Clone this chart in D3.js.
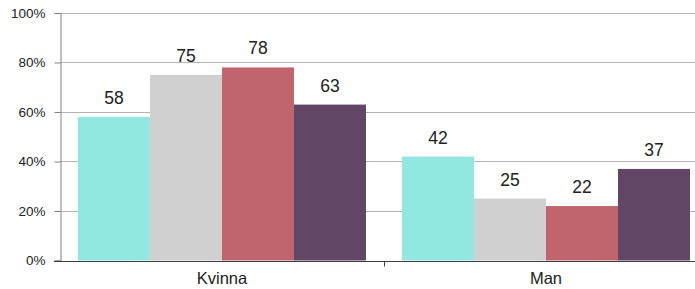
<!DOCTYPE html>
<html>
<head>
<meta charset="utf-8">
<script src="https://cdn.jsdelivr.net/npm/d3@7"></script>
<style>
  body { margin: 0; background: #fff; }
  svg { display: block; font-family: "Liberation Sans", Arial, sans-serif; }
</style>
</head>
<body>
<div id="chart"></div>
<script>
// Chart data
const categories = ["Kvinna", "Man"];
const seriesNames = ["s1", "s2", "s3", "s4"];
const seriesColors = ["#92e8e1", "#d0d0d0", "#c0646e", "#614665"];
const values = [
  [58, 75, 78, 63],   // Kvinna
  [42, 25, 22, 37]    // Man
];
const yTicks = [0, 20, 40, 60, 80, 100];

const width = 695, height = 289;
const margin = { left: 60, top: 13, right: -13, bottom: 28.5 };

const svg = d3.select("#chart").append("svg")
  .attr("width", width)
  .attr("height", height);

const x = d3.scaleBand()
  .domain(categories)
  .range([margin.left, width - margin.right])
  .paddingInner(0)
  .paddingOuter(0);

const xInner = d3.scaleBand()
  .domain(seriesNames)
  .range([18, x.bandwidth() - 18]);

const y = d3.scaleLinear()
  .domain([0, 100])
  .range([height - margin.bottom, margin.top]);

// Gridlines
svg.append("g")
  .selectAll("line")
  .data(yTicks.filter(d => d > 0))
  .join("line")
  .attr("x1", margin.left)
  .attr("x2", width)
  .attr("y1", d => Math.round(y(d)) + 0.5)
  .attr("y2", d => Math.round(y(d)) + 0.5)
  .attr("stroke", "#b4b4b4")
  .attr("stroke-width", 1);

// Bars
const groups = svg.append("g")
  .selectAll("g")
  .data(categories)
  .join("g")
  .attr("transform", d => `translate(${x(d)},0)`);

groups.selectAll("rect")
  .data((d, i) => values[i].map((v, j) => ({ v, s: seriesNames[j], c: seriesColors[j] })))
  .join("rect")
  .attr("x", d => xInner(d.s))
  .attr("width", xInner.bandwidth())
  .attr("y", d => y(d.v))
  .attr("height", d => y(0) - y(d.v))
  .attr("fill", d => d.c);

// Value labels
groups.selectAll("text")
  .data((d, i) => values[i].map((v, j) => ({ v, s: seriesNames[j] })))
  .join("text")
  .attr("x", d => xInner(d.s) + xInner.bandwidth() / 2)
  .attr("y", d => y(d.v) - 13)
  .attr("text-anchor", "middle")
  .attr("font-size", "17.5px")
  .attr("fill", "#222")
  .text(d => d.v);

// Y axis
const yAxis = svg.append("g")
  .attr("transform", `translate(${margin.left + 0.5},0)`)
  .call(d3.axisLeft(y).tickValues(yTicks).tickSize(6).tickPadding(9).tickFormat(d => d + "%"));
yAxis.select(".domain").attr("stroke", "#808080");
yAxis.selectAll(".tick line").attr("stroke", "#808080");
yAxis.selectAll(".tick text")
  .attr("font-size", "13.5px")
  .attr("fill", "#222")
  .style("font-family", "\"Liberation Sans\", Arial, sans-serif");

// X axis
const xAxisY = Math.round(y(0)) + 0.5;
svg.append("line")
  .attr("x1", margin.left - 6)
  .attr("x2", width)
  .attr("y1", xAxisY)
  .attr("y2", xAxisY)
  .attr("stroke", "#404040");

svg.append("g")
  .selectAll("line")
  .data(categories.slice(1))
  .join("line")
  .attr("x1", d => Math.round(x(d)) + 0.5)
  .attr("x2", d => Math.round(x(d)) + 0.5)
  .attr("y1", xAxisY)
  .attr("y2", xAxisY + 5)
  .attr("stroke", "#404040");

svg.append("g")
  .selectAll("text")
  .data(categories)
  .join("text")
  .attr("x", d => x(d) + x.bandwidth() / 2)
  .attr("y", height - 5)
  .attr("text-anchor", "middle")
  .attr("font-size", "16.5px")
  .attr("fill", "#222")
  .text(d => d);
</script>
</body>
</html>
